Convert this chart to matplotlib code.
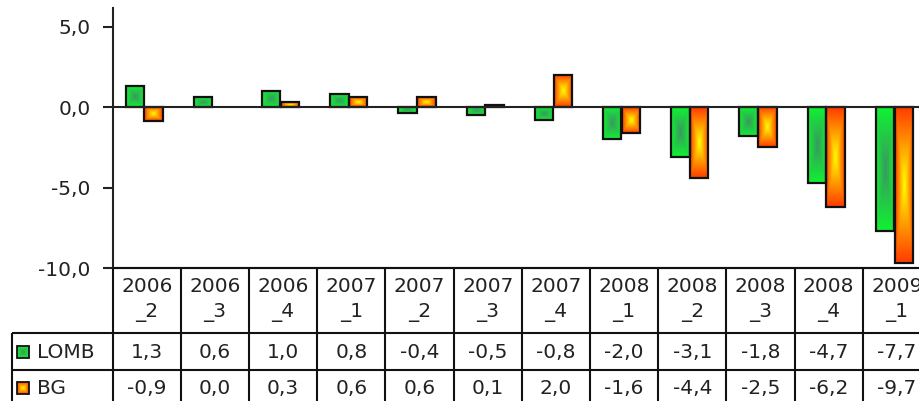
import numpy as np
import matplotlib
matplotlib.use("Agg")
from matplotlib import pyplot as plt
from matplotlib.colors import to_rgb
from matplotlib.ticker import FuncFormatter

periods = ["2006_2", "2006_3", "2006_4", "2007_1", "2007_2", "2007_3",
           "2007_4", "2008_1", "2008_2", "2008_3", "2008_4", "2009_1"]
lomb = [1.3, 0.6, 1.0, 0.8, -0.4, -0.5, -0.8, -2.0, -3.1, -1.8, -4.7, -7.7]
bg = [-0.9, 0.0, 0.3, 0.6, 0.6, 0.1, 2.0, -1.6, -4.4, -2.5, -6.2, -9.7]
series_names = ["LOMB", "BG"]
yticks = [-10, -5, 0, 5]

# gradient colours (centre, edge)
GREEN = ("#3a9860", "#10f232")
ORANGE = ("#ffff00", "#ff3c00")
TXT = "#222222"
FS = 14.5


def fmt(v):
    return ("%.1f" % v).replace(".", ",")


def grad_img(colors, n=64):
    u = np.linspace(-1, 1, n)
    U, V = np.meshgrid(u, u)
    d = np.maximum(np.abs(U), np.abs(V))
    c0 = np.array(to_rgb(colors[0]))
    c1 = np.array(to_rgb(colors[1]))
    return c0 + (c1 - c0) * d[..., None]


W, H = 920, 401
fig = plt.figure(figsize=(W / 100, H / 100), dpi=100)
fig.patch.set_facecolor("white")

# pixel layout
ax_l, ax_r, ax_t, ax_b = 112.7, 931.0, 8.0, 268.0
tab_l, tab_b = 12.0, 407.0
ax = fig.add_axes([ax_l / W, 1 - ax_b / H, (ax_r - ax_l) / W, (ax_b - ax_t) / H])

x = np.arange(len(periods))
bw = 0.27
b1 = ax.bar(x - 0.31, lomb, width=bw, align="edge", facecolor="none",
            edgecolor="#111111", linewidth=1.6, zorder=3)
b2 = ax.bar(x - 0.035, bg, width=bw, align="edge", facecolor="none",
            edgecolor="#111111", linewidth=1.6, zorder=3)

for bars, cols in [(b1, GREEN), (b2, ORANGE)]:
    img = grad_img(cols)
    for p in bars:
        h = p.get_height()
        if h == 0:
            p.set_visible(False)
            continue
        y0, y1 = sorted([p.get_y(), p.get_y() + h])
        im = ax.imshow(img, extent=[p.get_x(), p.get_x() + p.get_width(), y0, y1],
                       aspect="auto", origin="lower", zorder=2, interpolation="bilinear")
        im.set_clip_path(p)

ax.axhline(0, color=TXT, lw=1.5, zorder=4)
ax.set_xlim(-0.5, len(periods) - 0.5)
ax.set_ylim(-10, 6.15)
ax.set_xticks([])
ax.set_yticks(yticks)
ax.yaxis.set_major_formatter(FuncFormatter(lambda v, pos: fmt(v)))
ax.tick_params(axis="y", length=7, width=1.5, pad=9, labelsize=FS,
               colors=TXT, direction="out")
for s in ["top", "right"]:
    ax.spines[s].set_visible(False)
for s in ["left", "bottom"]:
    ax.spines[s].set_linewidth(1.5)
    ax.spines[s].set_color(TXT)

# data table underneath
ppu = (ax_r - ax_l) / len(periods)
x_left = -0.5 - (ax_l - tab_l) / ppu
tax = fig.add_axes([tab_l / W, 1 - tab_b / H, (ax_r - tab_l) / W, (tab_b - ax_b) / H])
tax.set_xlim(x_left, len(periods) - 0.5)
tax.set_ylim(tab_b - ax_b, 0)
tax.axis("off")

rows = [0, 65, 102, 139]
lk = dict(color="#111111", lw=1.5, clip_on=False)
tax.hlines(rows[0], -0.5, len(periods) - 0.5, **lk)
for r in rows[1:]:
    tax.hlines(r, x_left, len(periods) - 0.5, **lk)
for k in range(len(periods) + 1):
    tax.vlines(k - 0.5, rows[0], rows[-1], **lk)
tax.vlines(x_left, rows[1], rows[-1], **lk)

for k, p in enumerate(periods):
    yr, q = p.split("_")
    tax.text(k, 18, yr, ha="center", va="center", fontsize=FS, color=TXT)
    tax.text(k, 44, "_" + q, ha="center", va="center", fontsize=FS, color=TXT)

row_y = [84, 120]
for name, vals, cols, ry in zip(series_names, [lomb, bg], [GREEN, ORANGE], row_y):
    for k, v in enumerate(vals):
        tax.text(k, ry, fmt(v), ha="center", va="center", fontsize=FS, color=TXT)
    sx0 = x_left + 5 / ppu
    sx1 = x_left + 17 / ppu
    tax.imshow(grad_img(cols), extent=[sx0, sx1, ry + 6, ry - 6], aspect="auto",
               zorder=2, clip_on=False)
    tax.add_patch(plt.Rectangle((sx0, ry - 6), sx1 - sx0, 12, facecolor="none",
                                edgecolor="#111111", lw=1.3, zorder=3, clip_on=False))
    tax.text(x_left + 25 / ppu, ry, name, ha="left", va="center", fontsize=FS, color=TXT)

tax.set_xlim(x_left, len(periods) - 0.5)
tax.set_ylim(tab_b - ax_b, 0)

fig.savefig("out.png", dpi=100)
